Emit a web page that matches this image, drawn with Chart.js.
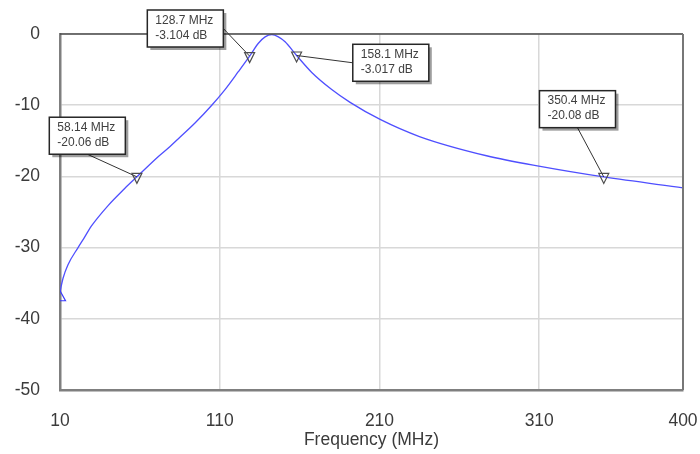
<!DOCTYPE html>
<html>
<head>
<meta charset="utf-8">
<script src="https://cdn.jsdelivr.net/npm/chart.js@4"></script>
<style>
  html, body { margin: 0; padding: 0; background: #ffffff; }
  #wrap { width: 700px; height: 454px; position: relative; }
</style>
</head>
<body>
<div id="wrap"><canvas id="c" width="700" height="454"></canvas></div>
<script>
// Filter transmission response (S21 magnitude)
const freqMHz = [10, 11.9, 15.0, 21.3, 25.5, 29.6, 40.1, 50.5, 58.14, 71.6, 78.9, 84.1, 94.5, 105, 113.3, 121.6,
                 128.7, 134.2, 138.4, 142.6, 146.7, 150.9, 158.1, 167.6, 180.1, 191.6, 210.4, 235, 277, 310.6, 350.4, 400];
const gainDb = [-36.2, -34.3, -32.4, -30.0, -28.5, -27.0, -24.1, -21.7, -20.06, -17.2, -15.8, -14.7, -12.5, -10.0, -7.8, -5.3,
                -3.104, -1.3, -0.4, -0.1, -0.4, -1.1, -3.017, -5.4, -7.8, -9.6, -12.0, -14.4, -17.1, -18.6, -20.08, -21.6];

// Readout markers
const markerFreq = [58.14, 128.7, 158.1, 350.4];
const markerDb = [-20.06, -3.104, -3.017, -20.08];

// Axis ticks
const xTicks = [10, 110, 210, 310, 400];
const yTicks = [0, -10, -20, -30, -40, -50];

const FONT = '"Liberation Sans", Arial, sans-serif';

// Callout boxes: offset of the box's top-left corner from its marker, and which side the leader leaves from
const calloutLayout = [
  { dx: -87.6, dy: -59.6, side: 'bottom' },
  { dx: -102.3, dy: -46.1, side: 'right' },
  { dx: 56.2, dy: -11.2, side: 'left' },
  { dx: -64.3, dy: -86.3, side: 'bottom' }
];

const framePlugin = {
  id: 'frame',
  afterDatasetsDraw(chart) {
    const { ctx, chartArea: a, scales } = chart;
    const xs = scales.x, ys = scales.y;

    // start-of-sweep marker (up triangle), clipped to the plot area
    ctx.save();
    ctx.beginPath();
    ctx.rect(a.left, a.top, a.right - a.left, a.bottom - a.top);
    ctx.clip();
    const sx = xs.getPixelForValue(freqMHz[0]);
    const sy = ys.getPixelForValue(gainDb[0]);
    ctx.strokeStyle = '#3a3aff';
    ctx.lineWidth = 1.2;
    ctx.beginPath();
    ctx.moveTo(sx, sy - 1);
    ctx.lineTo(sx + 5.5, sy + 9);
    ctx.lineTo(sx - 5.5, sy + 9);
    ctx.closePath();
    ctx.stroke();
    ctx.restore();

    // frame: top and right edges
    ctx.save();
    ctx.strokeStyle = '#4a4a4a';
    ctx.lineWidth = 1.5;
    ctx.beginPath();
    ctx.moveTo(a.left, a.top);
    ctx.lineTo(a.right, a.top);
    ctx.stroke();
    ctx.strokeStyle = '#777777';
    ctx.lineWidth = 2;
    ctx.beginPath();
    ctx.moveTo(a.right, a.top);
    ctx.lineTo(a.right, a.bottom);
    ctx.stroke();
    ctx.restore();

    // readout markers with callouts
    ctx.save();
    ctx.font = '12px ' + FONT;
    markerFreq.forEach((f, i) => {
      const db = markerDb[i];
      const px = xs.getPixelForValue(f);
      const py = ys.getPixelForValue(db);
      const l1 = String(f) + ' MHz';
      const l2 = String(db) + ' dB';
      const w = Math.max(ctx.measureText(l1).width, ctx.measureText(l2).width) + 18;
      const h = 37;
      const lay = calloutLayout[i];
      const bx = px + lay.dx, by = py + lay.dy;

      // leader
      let lx, ly;
      if (lay.side === 'bottom') { lx = bx + w / 2; ly = by + h; }
      else if (lay.side === 'right') { lx = bx + w; ly = by + h / 2; }
      else { lx = bx; ly = by + h / 2; }
      ctx.strokeStyle = '#333333';
      ctx.lineWidth = 1;
      ctx.beginPath();
      ctx.moveTo(lx, ly);
      ctx.lineTo(px, py);
      ctx.stroke();

      // marker (down triangle)
      ctx.strokeStyle = '#4d4d4d';
      ctx.lineWidth = 1.2;
      ctx.beginPath();
      ctx.moveTo(px - 5, py - 3.5);
      ctx.lineTo(px + 5, py - 3.5);
      ctx.lineTo(px, py + 6.5);
      ctx.closePath();
      ctx.stroke();

      // box with drop shadow
      ctx.fillStyle = 'rgba(0,0,0,0.38)';
      ctx.fillRect(bx + 3, by + 3, w, h);
      ctx.fillStyle = '#ffffff';
      ctx.fillRect(bx, by, w, h);
      ctx.strokeStyle = '#262626';
      ctx.lineWidth = 1.5;
      ctx.strokeRect(bx, by, w, h);

      ctx.fillStyle = '#404040';
      ctx.textAlign = 'left';
      ctx.textBaseline = 'middle';
      ctx.fillText(l1, bx + 8, by + 10.5);
      ctx.fillText(l2, bx + 8, by + 25.5);
    });
    ctx.restore();
  }
};

new Chart(document.getElementById('c'), {
  type: 'line',
  data: {
    datasets: [{
      label: 'S21',
      data: freqMHz.map((f, i) => ({ x: f, y: gainDb[i] })),
      borderColor: '#4f4fff',
      borderWidth: 1.3,
      pointRadius: 0,
      cubicInterpolationMode: 'monotone',
      fill: false
    }]
  },
  options: {
    responsive: false,
    animation: false,
    events: [],
    layout: { padding: { left: 0, right: 17, top: 34, bottom: 0 } },
    plugins: {
      legend: { display: false },
      tooltip: { enabled: false },
      title: { display: false }
    },
    scales: {
      x: {
        type: 'linear',
        min: 10,
        max: 400,
        afterBuildTicks: s => { s.ticks = xTicks.map(v => ({ value: v })); },
        afterFit: s => { s.height = 64; s.paddingLeft = 0; s.paddingRight = 0; },
        grid: { color: '#d8d8d8', lineWidth: 1.5, drawTicks: false },
        border: { display: true, color: '#7f7f7f', width: 2.5 },
        ticks: {
          padding: 21,
          color: '#3b3b3b',
          font: { family: FONT, size: 17.5 },
          maxRotation: 0,
          autoSkip: false
        },
        title: {
          display: true,
          text: 'Frequency (MHz)',
          color: '#3b3b3b',
          font: { family: FONT, size: 17.5 },
          padding: { top: 0, bottom: 3 }
        }
      },
      y: {
        type: 'linear',
        min: -50,
        max: 0,
        afterBuildTicks: s => { s.ticks = yTicks.map(v => ({ value: v })); },
        afterFit: s => { s.width = 60; s.paddingTop = 0; s.paddingBottom = 0; },
        grid: { color: '#d8d8d8', lineWidth: 1.5, drawTicks: false },
        border: { display: true, color: '#7f7f7f', width: 2.5 },
        ticks: {
          padding: 20,
          color: '#3b3b3b',
          font: { family: FONT, size: 17.5 },
          autoSkip: false
        }
      }
    }
  },
  plugins: [framePlugin]
});
</script>
</body>
</html>
